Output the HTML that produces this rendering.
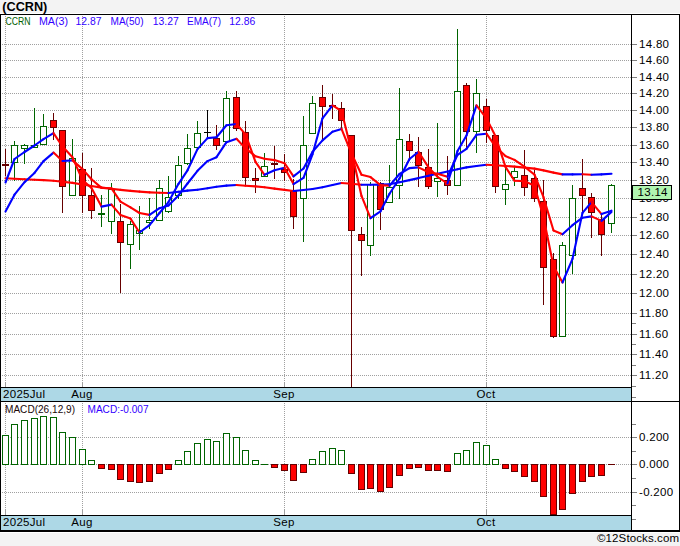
<!DOCTYPE html>
<html><head><meta charset="utf-8"><style>
html,body{margin:0;padding:0;background:#f3f3f3;}
svg{display:block;font-family:"Liberation Sans", sans-serif;}
</style></head><body>
<svg width="680" height="546" viewBox="0 0 680 546">
<rect x="0" y="0" width="680" height="546" fill="#f3f3f3"/>
<rect x="0" y="13" width="680" height="520" fill="#ffffff"/>
<path d="M0 44.5H631 M0 60.5H631 M0 77.5H631 M0 93.5H631 M0 110.5H631 M0 127.5H631 M0 145.5H631 M0 162.5H631 M0 180.5H631 M0 198.5H631 M0 217.5H631 M0 235.5H631 M0 254.5H631 M0 274.5H631 M0 293.5H631 M0 313.5H631 M0 334.5H631 M0 354.5H631 M0 375.5H631" stroke="#a0a0a0" stroke-width="1" stroke-dasharray="1 1"/>
<path d="M0 437.5H631 M0 464.5H631 M0 492.5H631" stroke="#a0a0a0" stroke-width="1" stroke-dasharray="1 1"/>
<path d="M5.5 16V387 M5.5 403V515 M82.5 16V387 M82.5 403V515 M284.5 16V387 M284.5 403V515 M486.5 16V387 M486.5 403V515" stroke="#a0a0a0" stroke-width="1" stroke-dasharray="1 1"/>
<path d="M5.5 382V387 M5.5 510V515 M82.5 382V387 M82.5 510V515 M284.5 382V387 M284.5 510V515 M486.5 382V387 M486.5 510V515" stroke="#a0a0a0" stroke-width="1"/>
<rect x="5" y="149" width="1" height="27" fill="#660000"/>
<rect x="2" y="164" width="7" height="2" fill="#660000"/>
<rect x="14" y="141" width="1" height="40" fill="#006400"/>
<rect x="11" y="145" width="7" height="18" fill="#006400"/>
<rect x="12" y="146" width="5" height="16" fill="#ffffff"/>
<rect x="24" y="144" width="1" height="20" fill="#006400"/>
<rect x="21" y="145" width="7" height="4" fill="#006400"/>
<rect x="22" y="146" width="5" height="2" fill="#ffffff"/>
<rect x="34" y="108" width="1" height="40" fill="#006400"/>
<rect x="31" y="145" width="7" height="3" fill="#006400"/>
<rect x="32" y="146" width="5" height="1" fill="#ffffff"/>
<rect x="43" y="114" width="1" height="31" fill="#006400"/>
<rect x="40" y="126" width="7" height="19" fill="#006400"/>
<rect x="41" y="127" width="5" height="17" fill="#ffffff"/>
<rect x="53" y="113" width="1" height="27" fill="#660000"/>
<rect x="50" y="120" width="7" height="8" fill="#660000"/>
<rect x="51" y="121" width="5" height="6" fill="#ff0000"/>
<rect x="62" y="130" width="1" height="83" fill="#660000"/>
<rect x="59" y="130" width="7" height="57" fill="#660000"/>
<rect x="60" y="131" width="5" height="55" fill="#ff0000"/>
<rect x="72" y="139" width="1" height="57" fill="#006400"/>
<rect x="69" y="158" width="7" height="38" fill="#006400"/>
<rect x="70" y="159" width="5" height="36" fill="#ffffff"/>
<rect x="82" y="153" width="1" height="60" fill="#660000"/>
<rect x="79" y="169" width="7" height="27" fill="#660000"/>
<rect x="80" y="170" width="5" height="25" fill="#ff0000"/>
<rect x="91" y="168" width="1" height="51" fill="#660000"/>
<rect x="88" y="195" width="7" height="16" fill="#660000"/>
<rect x="89" y="196" width="5" height="14" fill="#ff0000"/>
<rect x="101" y="195" width="1" height="32" fill="#006400"/>
<rect x="98" y="213" width="7" height="2" fill="#006400"/>
<rect x="111" y="183" width="1" height="51" fill="#006400"/>
<rect x="108" y="189" width="7" height="33" fill="#006400"/>
<rect x="109" y="190" width="5" height="31" fill="#ffffff"/>
<rect x="120" y="204" width="1" height="89" fill="#660000"/>
<rect x="117" y="221" width="7" height="22" fill="#660000"/>
<rect x="118" y="222" width="5" height="20" fill="#ff0000"/>
<rect x="130" y="221" width="1" height="48" fill="#006400"/>
<rect x="127" y="224" width="7" height="21" fill="#006400"/>
<rect x="128" y="225" width="5" height="19" fill="#ffffff"/>
<rect x="139" y="206" width="1" height="44" fill="#006400"/>
<rect x="136" y="230" width="7" height="4" fill="#006400"/>
<rect x="137" y="231" width="5" height="2" fill="#ffffff"/>
<rect x="149" y="198" width="1" height="31" fill="#006400"/>
<rect x="146" y="220" width="7" height="3" fill="#006400"/>
<rect x="147" y="221" width="5" height="1" fill="#ffffff"/>
<rect x="159" y="180" width="1" height="41" fill="#006400"/>
<rect x="156" y="188" width="7" height="33" fill="#006400"/>
<rect x="157" y="189" width="5" height="31" fill="#ffffff"/>
<rect x="168" y="176" width="1" height="37" fill="#006400"/>
<rect x="165" y="197" width="7" height="15" fill="#006400"/>
<rect x="166" y="198" width="5" height="13" fill="#ffffff"/>
<rect x="178" y="156" width="1" height="43" fill="#006400"/>
<rect x="175" y="165" width="7" height="31" fill="#006400"/>
<rect x="176" y="166" width="5" height="29" fill="#ffffff"/>
<rect x="187" y="134" width="1" height="31" fill="#006400"/>
<rect x="184" y="148" width="7" height="16" fill="#006400"/>
<rect x="185" y="149" width="5" height="14" fill="#ffffff"/>
<rect x="197" y="121" width="1" height="27" fill="#006400"/>
<rect x="194" y="133" width="7" height="15" fill="#006400"/>
<rect x="195" y="134" width="5" height="13" fill="#ffffff"/>
<rect x="207" y="110" width="1" height="29" fill="#000000"/>
<rect x="204" y="132" width="7" height="1" fill="#000000"/>
<rect x="216" y="125" width="1" height="25" fill="#660000"/>
<rect x="213" y="138" width="7" height="8" fill="#660000"/>
<rect x="214" y="139" width="5" height="6" fill="#ff0000"/>
<rect x="226" y="91" width="1" height="51" fill="#006400"/>
<rect x="223" y="98" width="7" height="44" fill="#006400"/>
<rect x="224" y="99" width="5" height="42" fill="#ffffff"/>
<rect x="236" y="91" width="1" height="40" fill="#660000"/>
<rect x="233" y="97" width="7" height="32" fill="#660000"/>
<rect x="234" y="98" width="5" height="30" fill="#ff0000"/>
<rect x="245" y="121" width="1" height="64" fill="#660000"/>
<rect x="242" y="132" width="7" height="46" fill="#660000"/>
<rect x="243" y="133" width="5" height="44" fill="#ff0000"/>
<rect x="255" y="168" width="1" height="25" fill="#660000"/>
<rect x="252" y="178" width="7" height="3" fill="#660000"/>
<rect x="253" y="179" width="5" height="1" fill="#ff0000"/>
<rect x="264" y="153" width="1" height="24" fill="#006400"/>
<rect x="261" y="166" width="7" height="11" fill="#006400"/>
<rect x="262" y="167" width="5" height="9" fill="#ffffff"/>
<rect x="274" y="146" width="1" height="33" fill="#660000"/>
<rect x="271" y="163" width="7" height="2" fill="#660000"/>
<rect x="284" y="154" width="1" height="27" fill="#660000"/>
<rect x="281" y="169" width="7" height="4" fill="#660000"/>
<rect x="282" y="170" width="5" height="2" fill="#ff0000"/>
<rect x="293" y="179" width="1" height="50" fill="#660000"/>
<rect x="290" y="191" width="7" height="26" fill="#660000"/>
<rect x="291" y="192" width="5" height="24" fill="#ff0000"/>
<rect x="303" y="116" width="1" height="126" fill="#006400"/>
<rect x="300" y="145" width="7" height="54" fill="#006400"/>
<rect x="301" y="146" width="5" height="52" fill="#ffffff"/>
<rect x="312" y="96" width="1" height="38" fill="#006400"/>
<rect x="309" y="103" width="7" height="31" fill="#006400"/>
<rect x="310" y="104" width="5" height="29" fill="#ffffff"/>
<rect x="322" y="85" width="1" height="55" fill="#660000"/>
<rect x="319" y="97" width="7" height="10" fill="#660000"/>
<rect x="320" y="98" width="5" height="8" fill="#ff0000"/>
<rect x="332" y="94" width="1" height="25" fill="#660000"/>
<rect x="329" y="105" width="7" height="2" fill="#660000"/>
<rect x="341" y="102" width="1" height="27" fill="#660000"/>
<rect x="338" y="108" width="7" height="13" fill="#660000"/>
<rect x="339" y="109" width="5" height="11" fill="#ff0000"/>
<rect x="351" y="135" width="1" height="252" fill="#660000"/>
<rect x="348" y="135" width="7" height="96" fill="#660000"/>
<rect x="349" y="136" width="5" height="94" fill="#ff0000"/>
<rect x="361" y="227" width="1" height="49" fill="#660000"/>
<rect x="358" y="234" width="7" height="7" fill="#660000"/>
<rect x="359" y="235" width="5" height="5" fill="#ff0000"/>
<rect x="370" y="182" width="1" height="74" fill="#006400"/>
<rect x="367" y="184" width="7" height="62" fill="#006400"/>
<rect x="368" y="185" width="5" height="60" fill="#ffffff"/>
<rect x="380" y="182" width="1" height="48" fill="#660000"/>
<rect x="377" y="183" width="7" height="27" fill="#660000"/>
<rect x="378" y="184" width="5" height="25" fill="#ff0000"/>
<rect x="389" y="165" width="1" height="38" fill="#006400"/>
<rect x="386" y="187" width="7" height="16" fill="#006400"/>
<rect x="387" y="188" width="5" height="14" fill="#ffffff"/>
<rect x="399" y="88" width="1" height="111" fill="#006400"/>
<rect x="396" y="139" width="7" height="47" fill="#006400"/>
<rect x="397" y="140" width="5" height="45" fill="#ffffff"/>
<rect x="409" y="134" width="1" height="27" fill="#660000"/>
<rect x="406" y="141" width="7" height="10" fill="#660000"/>
<rect x="407" y="142" width="5" height="8" fill="#ff0000"/>
<rect x="418" y="137" width="1" height="50" fill="#660000"/>
<rect x="415" y="152" width="7" height="14" fill="#660000"/>
<rect x="416" y="153" width="5" height="12" fill="#ff0000"/>
<rect x="428" y="149" width="1" height="40" fill="#660000"/>
<rect x="425" y="167" width="7" height="20" fill="#660000"/>
<rect x="426" y="168" width="5" height="18" fill="#ff0000"/>
<rect x="437" y="123" width="1" height="74" fill="#006400"/>
<rect x="434" y="178" width="7" height="4" fill="#006400"/>
<rect x="435" y="179" width="5" height="2" fill="#ffffff"/>
<rect x="447" y="156" width="1" height="39" fill="#660000"/>
<rect x="444" y="180" width="7" height="6" fill="#660000"/>
<rect x="445" y="181" width="5" height="4" fill="#ff0000"/>
<rect x="457" y="29" width="1" height="157" fill="#006400"/>
<rect x="454" y="91" width="7" height="95" fill="#006400"/>
<rect x="455" y="92" width="5" height="93" fill="#ffffff"/>
<rect x="466" y="83" width="1" height="65" fill="#660000"/>
<rect x="463" y="85" width="7" height="47" fill="#660000"/>
<rect x="464" y="86" width="5" height="45" fill="#ff0000"/>
<rect x="476" y="79" width="1" height="74" fill="#006400"/>
<rect x="473" y="93" width="7" height="39" fill="#006400"/>
<rect x="474" y="94" width="5" height="37" fill="#ffffff"/>
<rect x="486" y="99" width="1" height="44" fill="#660000"/>
<rect x="483" y="106" width="7" height="25" fill="#660000"/>
<rect x="484" y="107" width="5" height="23" fill="#ff0000"/>
<rect x="495" y="135" width="1" height="58" fill="#660000"/>
<rect x="492" y="135" width="7" height="52" fill="#660000"/>
<rect x="493" y="136" width="5" height="50" fill="#ff0000"/>
<rect x="505" y="166" width="1" height="39" fill="#006400"/>
<rect x="502" y="184" width="7" height="6" fill="#006400"/>
<rect x="503" y="185" width="5" height="4" fill="#ffffff"/>
<rect x="514" y="167" width="1" height="19" fill="#006400"/>
<rect x="511" y="171" width="7" height="7" fill="#006400"/>
<rect x="512" y="172" width="5" height="5" fill="#ffffff"/>
<rect x="524" y="150" width="1" height="46" fill="#660000"/>
<rect x="521" y="175" width="7" height="13" fill="#660000"/>
<rect x="522" y="176" width="5" height="11" fill="#ff0000"/>
<rect x="534" y="170" width="1" height="32" fill="#660000"/>
<rect x="531" y="178" width="7" height="21" fill="#660000"/>
<rect x="532" y="179" width="5" height="19" fill="#ff0000"/>
<rect x="543" y="180" width="1" height="125" fill="#660000"/>
<rect x="540" y="201" width="7" height="67" fill="#660000"/>
<rect x="541" y="202" width="5" height="65" fill="#ff0000"/>
<rect x="553" y="253" width="1" height="85" fill="#660000"/>
<rect x="550" y="259" width="7" height="78" fill="#660000"/>
<rect x="551" y="260" width="5" height="76" fill="#ff0000"/>
<rect x="562" y="242" width="1" height="95" fill="#006400"/>
<rect x="559" y="245" width="7" height="92" fill="#006400"/>
<rect x="560" y="246" width="5" height="90" fill="#ffffff"/>
<rect x="572" y="185" width="1" height="89" fill="#006400"/>
<rect x="569" y="198" width="7" height="58" fill="#006400"/>
<rect x="570" y="199" width="5" height="56" fill="#ffffff"/>
<rect x="582" y="159" width="1" height="56" fill="#660000"/>
<rect x="579" y="188" width="7" height="8" fill="#660000"/>
<rect x="580" y="189" width="5" height="6" fill="#ff0000"/>
<rect x="591" y="193" width="1" height="45" fill="#660000"/>
<rect x="588" y="197" width="7" height="16" fill="#660000"/>
<rect x="589" y="198" width="5" height="14" fill="#ff0000"/>
<rect x="601" y="214" width="1" height="42" fill="#660000"/>
<rect x="598" y="219" width="7" height="16" fill="#660000"/>
<rect x="599" y="220" width="5" height="14" fill="#ff0000"/>
<rect x="611" y="184" width="1" height="49" fill="#006400"/>
<rect x="608" y="185" width="7" height="39" fill="#006400"/>
<rect x="609" y="186" width="5" height="37" fill="#ffffff"/>
<line x1="5.5" y1="178.2" x2="14.5" y2="178.7" stroke="#ff0000" stroke-width="2.1" stroke-linecap="round"/>
<line x1="14.5" y1="178.7" x2="24.5" y2="179.2" stroke="#ff0000" stroke-width="2.1" stroke-linecap="round"/>
<line x1="24.5" y1="179.2" x2="34.5" y2="179.7" stroke="#ff0000" stroke-width="2.1" stroke-linecap="round"/>
<line x1="34.5" y1="179.7" x2="43.5" y2="180.1" stroke="#ff0000" stroke-width="2.1" stroke-linecap="round"/>
<line x1="43.5" y1="180.1" x2="53.5" y2="180.8" stroke="#ff0000" stroke-width="2.1" stroke-linecap="round"/>
<line x1="53.5" y1="180.8" x2="62.5" y2="181.7" stroke="#ff0000" stroke-width="2.1" stroke-linecap="round"/>
<line x1="62.5" y1="181.7" x2="72.5" y2="182.9" stroke="#ff0000" stroke-width="2.1" stroke-linecap="round"/>
<line x1="72.5" y1="182.9" x2="82.5" y2="184.5" stroke="#ff0000" stroke-width="2.1" stroke-linecap="round"/>
<line x1="82.5" y1="184.5" x2="91.5" y2="186.0" stroke="#ff0000" stroke-width="2.1" stroke-linecap="round"/>
<line x1="91.5" y1="186.0" x2="101.5" y2="187.6" stroke="#ff0000" stroke-width="2.1" stroke-linecap="round"/>
<line x1="101.5" y1="187.6" x2="111.5" y2="188.8" stroke="#ff0000" stroke-width="2.1" stroke-linecap="round"/>
<line x1="111.5" y1="188.8" x2="120.5" y2="189.9" stroke="#ff0000" stroke-width="2.1" stroke-linecap="round"/>
<line x1="120.5" y1="189.9" x2="130.5" y2="190.9" stroke="#ff0000" stroke-width="2.1" stroke-linecap="round"/>
<line x1="130.5" y1="190.9" x2="139.5" y2="191.6" stroke="#ff0000" stroke-width="2.1" stroke-linecap="round"/>
<line x1="139.5" y1="191.6" x2="149.5" y2="192.4" stroke="#ff0000" stroke-width="2.1" stroke-linecap="round"/>
<line x1="149.5" y1="192.4" x2="159.5" y2="192.8" stroke="#ff0000" stroke-width="2.1" stroke-linecap="round"/>
<line x1="159.5" y1="192.8" x2="168.5" y2="193.0" stroke="#ff0000" stroke-width="2.1" stroke-linecap="round"/>
<line x1="168.5" y1="193.0" x2="178.5" y2="191.8" stroke="#0000ff" stroke-width="2.1" stroke-linecap="round"/>
<line x1="178.5" y1="191.8" x2="187.5" y2="190.6" stroke="#0000ff" stroke-width="2.1" stroke-linecap="round"/>
<line x1="187.5" y1="190.6" x2="197.5" y2="189.8" stroke="#0000ff" stroke-width="2.1" stroke-linecap="round"/>
<line x1="197.5" y1="189.8" x2="207.5" y2="188.3" stroke="#0000ff" stroke-width="2.1" stroke-linecap="round"/>
<line x1="207.5" y1="188.3" x2="216.5" y2="186.7" stroke="#0000ff" stroke-width="2.1" stroke-linecap="round"/>
<line x1="216.5" y1="186.7" x2="226.5" y2="185.6" stroke="#0000ff" stroke-width="2.1" stroke-linecap="round"/>
<line x1="226.5" y1="185.6" x2="236.5" y2="185.0" stroke="#0000ff" stroke-width="2.1" stroke-linecap="round"/>
<line x1="236.5" y1="185.0" x2="245.5" y2="185.7" stroke="#ff0000" stroke-width="2.1" stroke-linecap="round"/>
<line x1="245.5" y1="185.7" x2="255.5" y2="186.4" stroke="#ff0000" stroke-width="2.1" stroke-linecap="round"/>
<line x1="255.5" y1="186.4" x2="264.5" y2="187.3" stroke="#ff0000" stroke-width="2.1" stroke-linecap="round"/>
<line x1="264.5" y1="187.3" x2="274.5" y2="188.6" stroke="#ff0000" stroke-width="2.1" stroke-linecap="round"/>
<line x1="274.5" y1="188.6" x2="284.5" y2="189.9" stroke="#ff0000" stroke-width="2.1" stroke-linecap="round"/>
<line x1="284.5" y1="189.9" x2="293.5" y2="191.0" stroke="#ff0000" stroke-width="2.1" stroke-linecap="round"/>
<line x1="293.5" y1="191.0" x2="303.5" y2="190.0" stroke="#0000ff" stroke-width="2.1" stroke-linecap="round"/>
<line x1="303.5" y1="190.0" x2="312.5" y2="189.0" stroke="#0000ff" stroke-width="2.1" stroke-linecap="round"/>
<line x1="312.5" y1="189.0" x2="322.5" y2="187.2" stroke="#0000ff" stroke-width="2.1" stroke-linecap="round"/>
<line x1="322.5" y1="187.2" x2="332.5" y2="185.0" stroke="#0000ff" stroke-width="2.1" stroke-linecap="round"/>
<line x1="332.5" y1="185.0" x2="341.5" y2="183.0" stroke="#0000ff" stroke-width="2.1" stroke-linecap="round"/>
<line x1="341.5" y1="183.0" x2="351.5" y2="183.8" stroke="#ff0000" stroke-width="2.1" stroke-linecap="round"/>
<line x1="351.5" y1="183.8" x2="361.5" y2="184.7" stroke="#ff0000" stroke-width="2.1" stroke-linecap="round"/>
<line x1="361.5" y1="184.7" x2="370.5" y2="184.7" stroke="#0000ff" stroke-width="2.1" stroke-linecap="round"/>
<line x1="370.5" y1="184.7" x2="380.5" y2="184.6" stroke="#0000ff" stroke-width="2.1" stroke-linecap="round"/>
<line x1="380.5" y1="184.6" x2="389.5" y2="184.3" stroke="#0000ff" stroke-width="2.1" stroke-linecap="round"/>
<line x1="389.5" y1="184.3" x2="399.5" y2="182.3" stroke="#0000ff" stroke-width="2.1" stroke-linecap="round"/>
<line x1="399.5" y1="182.3" x2="409.5" y2="180.1" stroke="#0000ff" stroke-width="2.1" stroke-linecap="round"/>
<line x1="409.5" y1="180.1" x2="418.5" y2="178.1" stroke="#0000ff" stroke-width="2.1" stroke-linecap="round"/>
<line x1="418.5" y1="178.1" x2="428.5" y2="175.8" stroke="#0000ff" stroke-width="2.1" stroke-linecap="round"/>
<line x1="428.5" y1="175.8" x2="437.5" y2="173.7" stroke="#0000ff" stroke-width="2.1" stroke-linecap="round"/>
<line x1="437.5" y1="173.7" x2="447.5" y2="171.5" stroke="#0000ff" stroke-width="2.1" stroke-linecap="round"/>
<line x1="447.5" y1="171.5" x2="457.5" y2="169.3" stroke="#0000ff" stroke-width="2.1" stroke-linecap="round"/>
<line x1="457.5" y1="169.3" x2="466.5" y2="167.4" stroke="#0000ff" stroke-width="2.1" stroke-linecap="round"/>
<line x1="466.5" y1="167.4" x2="476.5" y2="166.0" stroke="#0000ff" stroke-width="2.1" stroke-linecap="round"/>
<line x1="476.5" y1="166.0" x2="486.5" y2="164.7" stroke="#0000ff" stroke-width="2.1" stroke-linecap="round"/>
<line x1="486.5" y1="164.7" x2="495.5" y2="165.3" stroke="#ff0000" stroke-width="2.1" stroke-linecap="round"/>
<line x1="495.5" y1="165.3" x2="505.5" y2="166.0" stroke="#ff0000" stroke-width="2.1" stroke-linecap="round"/>
<line x1="505.5" y1="166.0" x2="514.5" y2="166.6" stroke="#ff0000" stroke-width="2.1" stroke-linecap="round"/>
<line x1="514.5" y1="166.6" x2="524.5" y2="167.6" stroke="#ff0000" stroke-width="2.1" stroke-linecap="round"/>
<line x1="524.5" y1="167.6" x2="534.5" y2="168.6" stroke="#ff0000" stroke-width="2.1" stroke-linecap="round"/>
<line x1="534.5" y1="168.6" x2="543.5" y2="170.4" stroke="#ff0000" stroke-width="2.1" stroke-linecap="round"/>
<line x1="543.5" y1="170.4" x2="553.5" y2="172.6" stroke="#ff0000" stroke-width="2.1" stroke-linecap="round"/>
<line x1="553.5" y1="172.6" x2="562.5" y2="174.4" stroke="#ff0000" stroke-width="2.1" stroke-linecap="round"/>
<line x1="562.5" y1="174.4" x2="572.5" y2="174.4" stroke="#0000ff" stroke-width="2.1" stroke-linecap="round"/>
<line x1="572.5" y1="174.4" x2="582.5" y2="174.2" stroke="#0000ff" stroke-width="2.1" stroke-linecap="round"/>
<line x1="582.5" y1="174.2" x2="591.5" y2="174.8" stroke="#ff0000" stroke-width="2.1" stroke-linecap="round"/>
<line x1="591.5" y1="174.8" x2="601.5" y2="174.4" stroke="#0000ff" stroke-width="2.1" stroke-linecap="round"/>
<line x1="601.5" y1="174.4" x2="611.5" y2="173.8" stroke="#0000ff" stroke-width="2.1" stroke-linecap="round"/>
<line x1="5.5" y1="211.5" x2="14.5" y2="194.7" stroke="#0000ff" stroke-width="2.1" stroke-linecap="round"/>
<line x1="14.5" y1="194.7" x2="24.5" y2="182.2" stroke="#0000ff" stroke-width="2.1" stroke-linecap="round"/>
<line x1="24.5" y1="182.2" x2="34.5" y2="172.9" stroke="#0000ff" stroke-width="2.1" stroke-linecap="round"/>
<line x1="34.5" y1="172.9" x2="43.5" y2="161.1" stroke="#0000ff" stroke-width="2.1" stroke-linecap="round"/>
<line x1="43.5" y1="161.1" x2="53.5" y2="152.6" stroke="#0000ff" stroke-width="2.1" stroke-linecap="round"/>
<line x1="53.5" y1="152.6" x2="62.5" y2="161.0" stroke="#ff0000" stroke-width="2.1" stroke-linecap="round"/>
<line x1="62.5" y1="161.0" x2="72.5" y2="160.4" stroke="#0000ff" stroke-width="2.1" stroke-linecap="round"/>
<line x1="72.5" y1="160.4" x2="82.5" y2="169.1" stroke="#ff0000" stroke-width="2.1" stroke-linecap="round"/>
<line x1="82.5" y1="169.1" x2="91.5" y2="179.3" stroke="#ff0000" stroke-width="2.1" stroke-linecap="round"/>
<line x1="91.5" y1="179.3" x2="101.5" y2="187.9" stroke="#ff0000" stroke-width="2.1" stroke-linecap="round"/>
<line x1="101.5" y1="187.9" x2="111.5" y2="188.3" stroke="#ff0000" stroke-width="2.1" stroke-linecap="round"/>
<line x1="111.5" y1="188.3" x2="120.5" y2="201.6" stroke="#ff0000" stroke-width="2.1" stroke-linecap="round"/>
<line x1="120.5" y1="201.6" x2="130.5" y2="207.3" stroke="#ff0000" stroke-width="2.1" stroke-linecap="round"/>
<line x1="130.5" y1="207.3" x2="139.5" y2="213.0" stroke="#ff0000" stroke-width="2.1" stroke-linecap="round"/>
<line x1="139.5" y1="213.0" x2="149.5" y2="214.9" stroke="#ff0000" stroke-width="2.1" stroke-linecap="round"/>
<line x1="149.5" y1="214.9" x2="159.5" y2="208.2" stroke="#0000ff" stroke-width="2.1" stroke-linecap="round"/>
<line x1="159.5" y1="208.2" x2="168.5" y2="205.6" stroke="#0000ff" stroke-width="2.1" stroke-linecap="round"/>
<line x1="168.5" y1="205.6" x2="178.5" y2="195.4" stroke="#0000ff" stroke-width="2.1" stroke-linecap="round"/>
<line x1="178.5" y1="195.4" x2="187.5" y2="183.5" stroke="#0000ff" stroke-width="2.1" stroke-linecap="round"/>
<line x1="187.5" y1="183.5" x2="197.5" y2="170.8" stroke="#0000ff" stroke-width="2.1" stroke-linecap="round"/>
<line x1="197.5" y1="170.8" x2="207.5" y2="161.1" stroke="#0000ff" stroke-width="2.1" stroke-linecap="round"/>
<line x1="207.5" y1="161.1" x2="216.5" y2="157.2" stroke="#0000ff" stroke-width="2.1" stroke-linecap="round"/>
<line x1="216.5" y1="157.2" x2="226.5" y2="142.2" stroke="#0000ff" stroke-width="2.1" stroke-linecap="round"/>
<line x1="226.5" y1="142.2" x2="236.5" y2="138.8" stroke="#0000ff" stroke-width="2.1" stroke-linecap="round"/>
<line x1="236.5" y1="138.8" x2="245.5" y2="148.4" stroke="#ff0000" stroke-width="2.1" stroke-linecap="round"/>
<line x1="245.5" y1="148.4" x2="255.5" y2="156.3" stroke="#ff0000" stroke-width="2.1" stroke-linecap="round"/>
<line x1="255.5" y1="156.3" x2="264.5" y2="158.8" stroke="#ff0000" stroke-width="2.1" stroke-linecap="round"/>
<line x1="264.5" y1="158.8" x2="274.5" y2="160.1" stroke="#ff0000" stroke-width="2.1" stroke-linecap="round"/>
<line x1="274.5" y1="160.1" x2="284.5" y2="163.2" stroke="#ff0000" stroke-width="2.1" stroke-linecap="round"/>
<line x1="284.5" y1="163.2" x2="293.5" y2="176.3" stroke="#ff0000" stroke-width="2.1" stroke-linecap="round"/>
<line x1="293.5" y1="176.3" x2="303.5" y2="168.5" stroke="#0000ff" stroke-width="2.1" stroke-linecap="round"/>
<line x1="303.5" y1="168.5" x2="312.5" y2="151.9" stroke="#0000ff" stroke-width="2.1" stroke-linecap="round"/>
<line x1="312.5" y1="151.9" x2="322.5" y2="140.4" stroke="#0000ff" stroke-width="2.1" stroke-linecap="round"/>
<line x1="322.5" y1="140.4" x2="332.5" y2="131.7" stroke="#0000ff" stroke-width="2.1" stroke-linecap="round"/>
<line x1="332.5" y1="131.7" x2="341.5" y2="128.9" stroke="#0000ff" stroke-width="2.1" stroke-linecap="round"/>
<line x1="341.5" y1="128.9" x2="351.5" y2="153.5" stroke="#ff0000" stroke-width="2.1" stroke-linecap="round"/>
<line x1="351.5" y1="153.5" x2="361.5" y2="174.7" stroke="#ff0000" stroke-width="2.1" stroke-linecap="round"/>
<line x1="361.5" y1="174.7" x2="370.5" y2="177.1" stroke="#ff0000" stroke-width="2.1" stroke-linecap="round"/>
<line x1="370.5" y1="177.1" x2="380.5" y2="185.1" stroke="#ff0000" stroke-width="2.1" stroke-linecap="round"/>
<line x1="380.5" y1="185.1" x2="389.5" y2="185.7" stroke="#ff0000" stroke-width="2.1" stroke-linecap="round"/>
<line x1="389.5" y1="185.7" x2="399.5" y2="174.0" stroke="#0000ff" stroke-width="2.1" stroke-linecap="round"/>
<line x1="399.5" y1="174.0" x2="409.5" y2="168.1" stroke="#0000ff" stroke-width="2.1" stroke-linecap="round"/>
<line x1="409.5" y1="168.1" x2="418.5" y2="167.4" stroke="#0000ff" stroke-width="2.1" stroke-linecap="round"/>
<line x1="418.5" y1="167.4" x2="428.5" y2="172.2" stroke="#ff0000" stroke-width="2.1" stroke-linecap="round"/>
<line x1="428.5" y1="172.2" x2="437.5" y2="173.7" stroke="#ff0000" stroke-width="2.1" stroke-linecap="round"/>
<line x1="437.5" y1="173.7" x2="447.5" y2="176.7" stroke="#ff0000" stroke-width="2.1" stroke-linecap="round"/>
<line x1="447.5" y1="176.7" x2="457.5" y2="154.8" stroke="#0000ff" stroke-width="2.1" stroke-linecap="round"/>
<line x1="457.5" y1="154.8" x2="466.5" y2="148.9" stroke="#0000ff" stroke-width="2.1" stroke-linecap="round"/>
<line x1="466.5" y1="148.9" x2="476.5" y2="134.8" stroke="#0000ff" stroke-width="2.1" stroke-linecap="round"/>
<line x1="476.5" y1="134.8" x2="486.5" y2="133.7" stroke="#0000ff" stroke-width="2.1" stroke-linecap="round"/>
<line x1="486.5" y1="133.7" x2="495.5" y2="146.7" stroke="#ff0000" stroke-width="2.1" stroke-linecap="round"/>
<line x1="495.5" y1="146.7" x2="505.5" y2="156.1" stroke="#ff0000" stroke-width="2.1" stroke-linecap="round"/>
<line x1="505.5" y1="156.1" x2="514.5" y2="159.9" stroke="#ff0000" stroke-width="2.1" stroke-linecap="round"/>
<line x1="514.5" y1="159.9" x2="524.5" y2="166.7" stroke="#ff0000" stroke-width="2.1" stroke-linecap="round"/>
<line x1="524.5" y1="166.7" x2="534.5" y2="174.6" stroke="#ff0000" stroke-width="2.1" stroke-linecap="round"/>
<line x1="534.5" y1="174.6" x2="543.5" y2="197.2" stroke="#ff0000" stroke-width="2.1" stroke-linecap="round"/>
<line x1="543.5" y1="197.2" x2="553.5" y2="230.5" stroke="#ff0000" stroke-width="2.1" stroke-linecap="round"/>
<line x1="553.5" y1="230.5" x2="562.5" y2="234.2" stroke="#ff0000" stroke-width="2.1" stroke-linecap="round"/>
<line x1="562.5" y1="234.2" x2="572.5" y2="225.2" stroke="#0000ff" stroke-width="2.1" stroke-linecap="round"/>
<line x1="572.5" y1="225.2" x2="582.5" y2="217.7" stroke="#0000ff" stroke-width="2.1" stroke-linecap="round"/>
<line x1="582.5" y1="217.7" x2="591.5" y2="216.4" stroke="#0000ff" stroke-width="2.1" stroke-linecap="round"/>
<line x1="591.5" y1="216.4" x2="601.5" y2="220.9" stroke="#ff0000" stroke-width="2.1" stroke-linecap="round"/>
<line x1="601.5" y1="220.9" x2="611.5" y2="211.9" stroke="#0000ff" stroke-width="2.1" stroke-linecap="round"/>
<line x1="5.5" y1="182.5" x2="14.5" y2="159.0" stroke="#0000ff" stroke-width="2.1" stroke-linecap="round"/>
<line x1="14.5" y1="159.0" x2="24.5" y2="152.0" stroke="#0000ff" stroke-width="2.1" stroke-linecap="round"/>
<line x1="24.5" y1="152.0" x2="34.5" y2="145.5" stroke="#0000ff" stroke-width="2.1" stroke-linecap="round"/>
<line x1="34.5" y1="145.5" x2="43.5" y2="139.1" stroke="#0000ff" stroke-width="2.1" stroke-linecap="round"/>
<line x1="43.5" y1="139.1" x2="53.5" y2="133.1" stroke="#0000ff" stroke-width="2.1" stroke-linecap="round"/>
<line x1="53.5" y1="133.1" x2="62.5" y2="146.5" stroke="#ff0000" stroke-width="2.1" stroke-linecap="round"/>
<line x1="62.5" y1="146.5" x2="72.5" y2="157.3" stroke="#ff0000" stroke-width="2.1" stroke-linecap="round"/>
<line x1="72.5" y1="157.3" x2="82.5" y2="180.1" stroke="#ff0000" stroke-width="2.1" stroke-linecap="round"/>
<line x1="82.5" y1="180.1" x2="91.5" y2="188.0" stroke="#ff0000" stroke-width="2.1" stroke-linecap="round"/>
<line x1="91.5" y1="188.0" x2="101.5" y2="206.6" stroke="#ff0000" stroke-width="2.1" stroke-linecap="round"/>
<line x1="101.5" y1="206.6" x2="111.5" y2="204.6" stroke="#0000ff" stroke-width="2.1" stroke-linecap="round"/>
<line x1="111.5" y1="204.6" x2="120.5" y2="215.1" stroke="#ff0000" stroke-width="2.1" stroke-linecap="round"/>
<line x1="120.5" y1="215.1" x2="130.5" y2="218.6" stroke="#ff0000" stroke-width="2.1" stroke-linecap="round"/>
<line x1="130.5" y1="218.6" x2="139.5" y2="232.5" stroke="#ff0000" stroke-width="2.1" stroke-linecap="round"/>
<line x1="139.5" y1="232.5" x2="149.5" y2="225.2" stroke="#0000ff" stroke-width="2.1" stroke-linecap="round"/>
<line x1="149.5" y1="225.2" x2="159.5" y2="213.0" stroke="#0000ff" stroke-width="2.1" stroke-linecap="round"/>
<line x1="159.5" y1="213.0" x2="168.5" y2="202.1" stroke="#0000ff" stroke-width="2.1" stroke-linecap="round"/>
<line x1="168.5" y1="202.1" x2="178.5" y2="183.8" stroke="#0000ff" stroke-width="2.1" stroke-linecap="round"/>
<line x1="178.5" y1="183.8" x2="187.5" y2="170.3" stroke="#0000ff" stroke-width="2.1" stroke-linecap="round"/>
<line x1="187.5" y1="170.3" x2="197.5" y2="149.1" stroke="#0000ff" stroke-width="2.1" stroke-linecap="round"/>
<line x1="197.5" y1="149.1" x2="207.5" y2="138.1" stroke="#0000ff" stroke-width="2.1" stroke-linecap="round"/>
<line x1="207.5" y1="138.1" x2="216.5" y2="137.2" stroke="#0000ff" stroke-width="2.1" stroke-linecap="round"/>
<line x1="216.5" y1="137.2" x2="226.5" y2="125.3" stroke="#0000ff" stroke-width="2.1" stroke-linecap="round"/>
<line x1="226.5" y1="125.3" x2="236.5" y2="124.0" stroke="#0000ff" stroke-width="2.1" stroke-linecap="round"/>
<line x1="236.5" y1="124.0" x2="245.5" y2="134.4" stroke="#ff0000" stroke-width="2.1" stroke-linecap="round"/>
<line x1="245.5" y1="134.4" x2="255.5" y2="161.9" stroke="#ff0000" stroke-width="2.1" stroke-linecap="round"/>
<line x1="255.5" y1="161.9" x2="264.5" y2="174.8" stroke="#ff0000" stroke-width="2.1" stroke-linecap="round"/>
<line x1="264.5" y1="174.8" x2="274.5" y2="170.3" stroke="#0000ff" stroke-width="2.1" stroke-linecap="round"/>
<line x1="274.5" y1="170.3" x2="284.5" y2="167.7" stroke="#0000ff" stroke-width="2.1" stroke-linecap="round"/>
<line x1="284.5" y1="167.7" x2="293.5" y2="184.1" stroke="#ff0000" stroke-width="2.1" stroke-linecap="round"/>
<line x1="293.5" y1="184.1" x2="303.5" y2="177.8" stroke="#0000ff" stroke-width="2.1" stroke-linecap="round"/>
<line x1="303.5" y1="177.8" x2="312.5" y2="154.3" stroke="#0000ff" stroke-width="2.1" stroke-linecap="round"/>
<line x1="312.5" y1="154.3" x2="322.5" y2="118.3" stroke="#0000ff" stroke-width="2.1" stroke-linecap="round"/>
<line x1="322.5" y1="118.3" x2="332.5" y2="105.3" stroke="#0000ff" stroke-width="2.1" stroke-linecap="round"/>
<line x1="332.5" y1="105.3" x2="341.5" y2="111.0" stroke="#ff0000" stroke-width="2.1" stroke-linecap="round"/>
<line x1="341.5" y1="111.0" x2="351.5" y2="151.0" stroke="#ff0000" stroke-width="2.1" stroke-linecap="round"/>
<line x1="351.5" y1="151.0" x2="361.5" y2="195.9" stroke="#ff0000" stroke-width="2.1" stroke-linecap="round"/>
<line x1="361.5" y1="195.9" x2="370.5" y2="218.2" stroke="#ff0000" stroke-width="2.1" stroke-linecap="round"/>
<line x1="370.5" y1="218.2" x2="380.5" y2="211.3" stroke="#0000ff" stroke-width="2.1" stroke-linecap="round"/>
<line x1="380.5" y1="211.3" x2="389.5" y2="193.8" stroke="#0000ff" stroke-width="2.1" stroke-linecap="round"/>
<line x1="389.5" y1="193.8" x2="399.5" y2="178.5" stroke="#0000ff" stroke-width="2.1" stroke-linecap="round"/>
<line x1="399.5" y1="178.5" x2="409.5" y2="159.0" stroke="#0000ff" stroke-width="2.1" stroke-linecap="round"/>
<line x1="409.5" y1="159.0" x2="418.5" y2="151.8" stroke="#0000ff" stroke-width="2.1" stroke-linecap="round"/>
<line x1="418.5" y1="151.8" x2="428.5" y2="167.4" stroke="#ff0000" stroke-width="2.1" stroke-linecap="round"/>
<line x1="428.5" y1="167.4" x2="437.5" y2="176.8" stroke="#ff0000" stroke-width="2.1" stroke-linecap="round"/>
<line x1="437.5" y1="176.8" x2="447.5" y2="183.5" stroke="#ff0000" stroke-width="2.1" stroke-linecap="round"/>
<line x1="447.5" y1="183.5" x2="457.5" y2="151.1" stroke="#0000ff" stroke-width="2.1" stroke-linecap="round"/>
<line x1="457.5" y1="151.1" x2="466.5" y2="135.5" stroke="#0000ff" stroke-width="2.1" stroke-linecap="round"/>
<line x1="466.5" y1="135.5" x2="476.5" y2="105.4" stroke="#0000ff" stroke-width="2.1" stroke-linecap="round"/>
<line x1="476.5" y1="105.4" x2="486.5" y2="118.4" stroke="#ff0000" stroke-width="2.1" stroke-linecap="round"/>
<line x1="486.5" y1="118.4" x2="495.5" y2="136.2" stroke="#ff0000" stroke-width="2.1" stroke-linecap="round"/>
<line x1="495.5" y1="136.2" x2="505.5" y2="166.9" stroke="#ff0000" stroke-width="2.1" stroke-linecap="round"/>
<line x1="505.5" y1="166.9" x2="514.5" y2="180.8" stroke="#ff0000" stroke-width="2.1" stroke-linecap="round"/>
<line x1="514.5" y1="180.8" x2="524.5" y2="181.1" stroke="#ff0000" stroke-width="2.1" stroke-linecap="round"/>
<line x1="524.5" y1="181.1" x2="534.5" y2="185.8" stroke="#ff0000" stroke-width="2.1" stroke-linecap="round"/>
<line x1="534.5" y1="185.8" x2="543.5" y2="217.3" stroke="#ff0000" stroke-width="2.1" stroke-linecap="round"/>
<line x1="543.5" y1="217.3" x2="553.5" y2="266.2" stroke="#ff0000" stroke-width="2.1" stroke-linecap="round"/>
<line x1="553.5" y1="266.2" x2="562.5" y2="282.5" stroke="#ff0000" stroke-width="2.1" stroke-linecap="round"/>
<line x1="562.5" y1="282.5" x2="572.5" y2="258.8" stroke="#0000ff" stroke-width="2.1" stroke-linecap="round"/>
<line x1="572.5" y1="258.8" x2="582.5" y2="212.9" stroke="#0000ff" stroke-width="2.1" stroke-linecap="round"/>
<line x1="582.5" y1="212.9" x2="591.5" y2="202.1" stroke="#0000ff" stroke-width="2.1" stroke-linecap="round"/>
<line x1="591.5" y1="202.1" x2="601.5" y2="214.1" stroke="#ff0000" stroke-width="2.1" stroke-linecap="round"/>
<line x1="601.5" y1="214.1" x2="611.5" y2="210.7" stroke="#0000ff" stroke-width="2.1" stroke-linecap="round"/>
<rect x="2" y="435" width="7" height="30" fill="#006400"/>
<rect x="3" y="436" width="5" height="28" fill="#ffffff"/>
<rect x="11" y="424" width="7" height="41" fill="#006400"/>
<rect x="12" y="425" width="5" height="39" fill="#ffffff"/>
<rect x="21" y="420" width="7" height="45" fill="#006400"/>
<rect x="22" y="421" width="5" height="43" fill="#ffffff"/>
<rect x="31" y="418" width="7" height="47" fill="#006400"/>
<rect x="32" y="419" width="5" height="45" fill="#ffffff"/>
<rect x="40" y="416" width="7" height="49" fill="#006400"/>
<rect x="41" y="417" width="5" height="47" fill="#ffffff"/>
<rect x="50" y="417" width="7" height="48" fill="#006400"/>
<rect x="51" y="418" width="5" height="46" fill="#ffffff"/>
<rect x="59" y="432" width="7" height="33" fill="#006400"/>
<rect x="60" y="433" width="5" height="31" fill="#ffffff"/>
<rect x="69" y="437" width="7" height="28" fill="#006400"/>
<rect x="70" y="438" width="5" height="26" fill="#ffffff"/>
<rect x="79" y="449" width="7" height="16" fill="#006400"/>
<rect x="80" y="450" width="5" height="14" fill="#ffffff"/>
<rect x="88" y="460" width="7" height="5" fill="#006400"/>
<rect x="89" y="461" width="5" height="3" fill="#ffffff"/>
<rect x="98" y="464" width="7" height="5" fill="#660000"/>
<rect x="99" y="465" width="5" height="3" fill="#ff0000"/>
<rect x="108" y="464" width="7" height="6" fill="#660000"/>
<rect x="109" y="465" width="5" height="4" fill="#ff0000"/>
<rect x="117" y="464" width="7" height="16" fill="#660000"/>
<rect x="118" y="465" width="5" height="14" fill="#ff0000"/>
<rect x="127" y="464" width="7" height="18" fill="#660000"/>
<rect x="128" y="465" width="5" height="16" fill="#ff0000"/>
<rect x="136" y="464" width="7" height="19" fill="#660000"/>
<rect x="137" y="465" width="5" height="17" fill="#ff0000"/>
<rect x="146" y="464" width="7" height="18" fill="#660000"/>
<rect x="147" y="465" width="5" height="16" fill="#ff0000"/>
<rect x="156" y="464" width="7" height="10" fill="#660000"/>
<rect x="157" y="465" width="5" height="8" fill="#ff0000"/>
<rect x="165" y="464" width="7" height="6" fill="#660000"/>
<rect x="166" y="465" width="5" height="4" fill="#ff0000"/>
<rect x="175" y="460" width="7" height="5" fill="#006400"/>
<rect x="176" y="461" width="5" height="3" fill="#ffffff"/>
<rect x="184" y="451" width="7" height="14" fill="#006400"/>
<rect x="185" y="452" width="5" height="12" fill="#ffffff"/>
<rect x="194" y="443" width="7" height="22" fill="#006400"/>
<rect x="195" y="444" width="5" height="20" fill="#ffffff"/>
<rect x="204" y="439" width="7" height="26" fill="#006400"/>
<rect x="205" y="440" width="5" height="24" fill="#ffffff"/>
<rect x="213" y="441" width="7" height="24" fill="#006400"/>
<rect x="214" y="442" width="5" height="22" fill="#ffffff"/>
<rect x="223" y="433" width="7" height="32" fill="#006400"/>
<rect x="224" y="434" width="5" height="30" fill="#ffffff"/>
<rect x="233" y="437" width="7" height="28" fill="#006400"/>
<rect x="234" y="438" width="5" height="26" fill="#ffffff"/>
<rect x="242" y="450" width="7" height="15" fill="#006400"/>
<rect x="243" y="451" width="5" height="13" fill="#ffffff"/>
<rect x="252" y="460" width="7" height="5" fill="#006400"/>
<rect x="253" y="461" width="5" height="3" fill="#ffffff"/>
<rect x="261" y="464" width="7" height="1" fill="#006400"/>
<rect x="271" y="464" width="7" height="4" fill="#660000"/>
<rect x="272" y="465" width="5" height="2" fill="#ff0000"/>
<rect x="281" y="464" width="7" height="7" fill="#660000"/>
<rect x="282" y="465" width="5" height="5" fill="#ff0000"/>
<rect x="290" y="464" width="7" height="17" fill="#660000"/>
<rect x="291" y="465" width="5" height="15" fill="#ff0000"/>
<rect x="300" y="464" width="7" height="9" fill="#660000"/>
<rect x="301" y="465" width="5" height="7" fill="#ff0000"/>
<rect x="309" y="459" width="7" height="6" fill="#006400"/>
<rect x="310" y="460" width="5" height="4" fill="#ffffff"/>
<rect x="319" y="451" width="7" height="14" fill="#006400"/>
<rect x="320" y="452" width="5" height="12" fill="#ffffff"/>
<rect x="329" y="448" width="7" height="17" fill="#006400"/>
<rect x="330" y="449" width="5" height="15" fill="#ffffff"/>
<rect x="338" y="450" width="7" height="15" fill="#006400"/>
<rect x="339" y="451" width="5" height="13" fill="#ffffff"/>
<rect x="348" y="464" width="7" height="10" fill="#660000"/>
<rect x="349" y="465" width="5" height="8" fill="#ff0000"/>
<rect x="358" y="464" width="7" height="26" fill="#660000"/>
<rect x="359" y="465" width="5" height="24" fill="#ff0000"/>
<rect x="367" y="464" width="7" height="25" fill="#660000"/>
<rect x="368" y="465" width="5" height="23" fill="#ff0000"/>
<rect x="377" y="464" width="7" height="28" fill="#660000"/>
<rect x="378" y="465" width="5" height="26" fill="#ff0000"/>
<rect x="386" y="464" width="7" height="24" fill="#660000"/>
<rect x="387" y="465" width="5" height="22" fill="#ff0000"/>
<rect x="396" y="464" width="7" height="12" fill="#660000"/>
<rect x="397" y="465" width="5" height="10" fill="#ff0000"/>
<rect x="406" y="464" width="7" height="5" fill="#660000"/>
<rect x="407" y="465" width="5" height="3" fill="#ff0000"/>
<rect x="415" y="464" width="7" height="4" fill="#660000"/>
<rect x="416" y="465" width="5" height="2" fill="#ff0000"/>
<rect x="425" y="464" width="7" height="7" fill="#660000"/>
<rect x="426" y="465" width="5" height="5" fill="#ff0000"/>
<rect x="434" y="464" width="7" height="7" fill="#660000"/>
<rect x="435" y="465" width="5" height="5" fill="#ff0000"/>
<rect x="444" y="464" width="7" height="8" fill="#660000"/>
<rect x="445" y="465" width="5" height="6" fill="#ff0000"/>
<rect x="454" y="453" width="7" height="12" fill="#006400"/>
<rect x="455" y="454" width="5" height="10" fill="#ffffff"/>
<rect x="463" y="450" width="7" height="15" fill="#006400"/>
<rect x="464" y="451" width="5" height="13" fill="#ffffff"/>
<rect x="473" y="442" width="7" height="23" fill="#006400"/>
<rect x="474" y="443" width="5" height="21" fill="#ffffff"/>
<rect x="483" y="445" width="7" height="20" fill="#006400"/>
<rect x="484" y="446" width="5" height="18" fill="#ffffff"/>
<rect x="492" y="459" width="7" height="6" fill="#006400"/>
<rect x="493" y="460" width="5" height="4" fill="#ffffff"/>
<rect x="502" y="464" width="7" height="5" fill="#660000"/>
<rect x="503" y="465" width="5" height="3" fill="#ff0000"/>
<rect x="511" y="464" width="7" height="8" fill="#660000"/>
<rect x="512" y="465" width="5" height="6" fill="#ff0000"/>
<rect x="521" y="464" width="7" height="13" fill="#660000"/>
<rect x="522" y="465" width="5" height="11" fill="#ff0000"/>
<rect x="531" y="464" width="7" height="18" fill="#660000"/>
<rect x="532" y="465" width="5" height="16" fill="#ff0000"/>
<rect x="540" y="464" width="7" height="33" fill="#660000"/>
<rect x="541" y="465" width="5" height="31" fill="#ff0000"/>
<rect x="550" y="464" width="7" height="51" fill="#660000"/>
<rect x="551" y="465" width="5" height="49" fill="#ff0000"/>
<rect x="559" y="464" width="7" height="46" fill="#660000"/>
<rect x="560" y="465" width="5" height="44" fill="#ff0000"/>
<rect x="569" y="464" width="7" height="30" fill="#660000"/>
<rect x="570" y="465" width="5" height="28" fill="#ff0000"/>
<rect x="579" y="464" width="7" height="18" fill="#660000"/>
<rect x="580" y="465" width="5" height="16" fill="#ff0000"/>
<rect x="588" y="464" width="7" height="13" fill="#660000"/>
<rect x="589" y="465" width="5" height="11" fill="#ff0000"/>
<rect x="598" y="464" width="7" height="12" fill="#660000"/>
<rect x="599" y="465" width="5" height="10" fill="#ff0000"/>
<rect x="608" y="464" width="7" height="1" fill="#660000"/>
<rect x="1" y="388" width="630" height="13" fill="#add8e6"/>
<rect x="1" y="516" width="630" height="14" fill="#add8e6"/>
<rect x="0" y="14" width="680" height="1" fill="#000"/>
<rect x="0" y="14" width="1" height="518" fill="#000"/>
<rect x="679" y="14" width="1" height="518" fill="#000"/>
<rect x="0" y="530" width="680" height="2" fill="#000"/>
<rect x="631" y="14" width="1" height="517" fill="#000"/>
<rect x="0" y="387" width="632" height="1" fill="#000"/>
<rect x="0" y="401" width="680" height="1" fill="#000"/>
<rect x="0" y="515" width="632" height="1" fill="#000"/>
<path d="M632 44.5H637 M632 60.5H637 M632 77.5H637 M632 93.5H637 M632 110.5H637 M632 127.5H637 M632 145.5H637 M632 162.5H637 M632 180.5H637 M632 198.5H637 M632 217.5H637 M632 235.5H637 M632 254.5H637 M632 274.5H637 M632 293.5H637 M632 313.5H637 M632 334.5H637 M632 354.5H637 M632 375.5H637 M632 323.5H636 M632 344.5H636 M632 365.5H636 M632 386.5H636 M632 397.5H636 M632 437.5H637 M632 464.5H637 M632 492.5H637 M632 424.5H636 M632 451.5H636 M632 478.5H636 M632 505.5H636 M632 519.5H636" stroke="#808080" stroke-width="1"/>
<g font-family='"Liberation Sans", sans-serif'><text x="639" y="48" font-size="11.5" letter-spacing="0.3" fill="#000">14.80</text>
<text x="639" y="64" font-size="11.5" letter-spacing="0.3" fill="#000">14.60</text>
<text x="639" y="81" font-size="11.5" letter-spacing="0.3" fill="#000">14.40</text>
<text x="639" y="97" font-size="11.5" letter-spacing="0.3" fill="#000">14.20</text>
<text x="639" y="114" font-size="11.5" letter-spacing="0.3" fill="#000">14.00</text>
<text x="639" y="131" font-size="11.5" letter-spacing="0.3" fill="#000">13.80</text>
<text x="639" y="149" font-size="11.5" letter-spacing="0.3" fill="#000">13.60</text>
<text x="639" y="166" font-size="11.5" letter-spacing="0.3" fill="#000">13.40</text>
<text x="639" y="184" font-size="11.5" letter-spacing="0.3" fill="#000">13.20</text>
<text x="639" y="202" font-size="11.5" letter-spacing="0.3" fill="#000">13.00</text>
<text x="639" y="221" font-size="11.5" letter-spacing="0.3" fill="#000">12.80</text>
<text x="639" y="239" font-size="11.5" letter-spacing="0.3" fill="#000">12.60</text>
<text x="639" y="258" font-size="11.5" letter-spacing="0.3" fill="#000">12.40</text>
<text x="639" y="278" font-size="11.5" letter-spacing="0.3" fill="#000">12.20</text>
<text x="639" y="297" font-size="11.5" letter-spacing="0.3" fill="#000">12.00</text>
<text x="639" y="317" font-size="11.5" letter-spacing="0.3" fill="#000">11.80</text>
<text x="639" y="338" font-size="11.5" letter-spacing="0.3" fill="#000">11.60</text>
<text x="639" y="358" font-size="11.5" letter-spacing="0.3" fill="#000">11.40</text>
<text x="639" y="379" font-size="11.5" letter-spacing="0.3" fill="#000">11.20</text>
<text x="639" y="441" font-size="11.5" letter-spacing="0.3" fill="#000">0.200</text>
<text x="639" y="468" font-size="11.5" letter-spacing="0.3" fill="#000">0.000</text>
<text x="639" y="496" font-size="11.5" letter-spacing="0.3" fill="#000">-0.200</text>
<text x="3" y="398" font-size="11.5" letter-spacing="0.3" fill="#000" text-anchor="start">2025Jul</text>
<text x="3" y="526" font-size="11.5" letter-spacing="0.3" fill="#000" text-anchor="start">2025Jul</text>
<text x="82" y="398" font-size="11.5" letter-spacing="0.3" fill="#000" text-anchor="middle">Aug</text>
<text x="82" y="526" font-size="11.5" letter-spacing="0.3" fill="#000" text-anchor="middle">Aug</text>
<text x="284" y="398" font-size="11.5" letter-spacing="0.3" fill="#000" text-anchor="middle">Sep</text>
<text x="284" y="526" font-size="11.5" letter-spacing="0.3" fill="#000" text-anchor="middle">Sep</text>
<text x="486" y="398" font-size="11.5" letter-spacing="0.3" fill="#000" text-anchor="middle">Oct</text>
<text x="486" y="526" font-size="11.5" letter-spacing="0.3" fill="#000" text-anchor="middle">Oct</text>
<text x="5.5" y="24.7" font-size="10.2" fill="#006000" textLength="25" lengthAdjust="spacingAndGlyphs">CCRN</text>
<text x="39" y="24.7" font-size="10.2" fill="#3300ff" textLength="29" lengthAdjust="spacingAndGlyphs">MA(3)</text>
<text x="75.5" y="24.7" font-size="10.2" fill="#3300ff" textLength="26" lengthAdjust="spacingAndGlyphs">12.87</text>
<text x="110.5" y="24.7" font-size="10.2" fill="#3300ff" textLength="33" lengthAdjust="spacingAndGlyphs">MA(50)</text>
<text x="152.8" y="24.7" font-size="10.2" fill="#3300ff" textLength="26" lengthAdjust="spacingAndGlyphs">13.27</text>
<text x="187" y="24.7" font-size="10.2" fill="#3300ff" textLength="34" lengthAdjust="spacingAndGlyphs">EMA(7)</text>
<text x="229.3" y="24.7" font-size="10.2" fill="#3300ff" textLength="26" lengthAdjust="spacingAndGlyphs">12.86</text>
<text x="5" y="412.5" font-size="10.5" fill="#200808" textLength="70" lengthAdjust="spacingAndGlyphs">MACD(26,12,9)</text>
<text x="87.5" y="412.5" font-size="10.5" fill="#3300ff" textLength="61" lengthAdjust="spacingAndGlyphs">MACD:-0.007</text>
<text x="2.3" y="11" font-size="13" font-weight="bold" fill="#000" textLength="45" lengthAdjust="spacingAndGlyphs">(CCRN)</text>
<text x="597" y="542" font-size="11.5" fill="#000" textLength="82" lengthAdjust="spacing">&#169;12Stocks.com</text></g>
<rect x="632.5" y="185.5" width="39" height="14" fill="#b0f5b0" stroke="#000" stroke-width="1"/>
<text x="637.5" y="196" font-size="11.5" letter-spacing="0.3" fill="#000" font-family='"Liberation Sans", sans-serif'>13.14</text>
</svg>
</body></html>
